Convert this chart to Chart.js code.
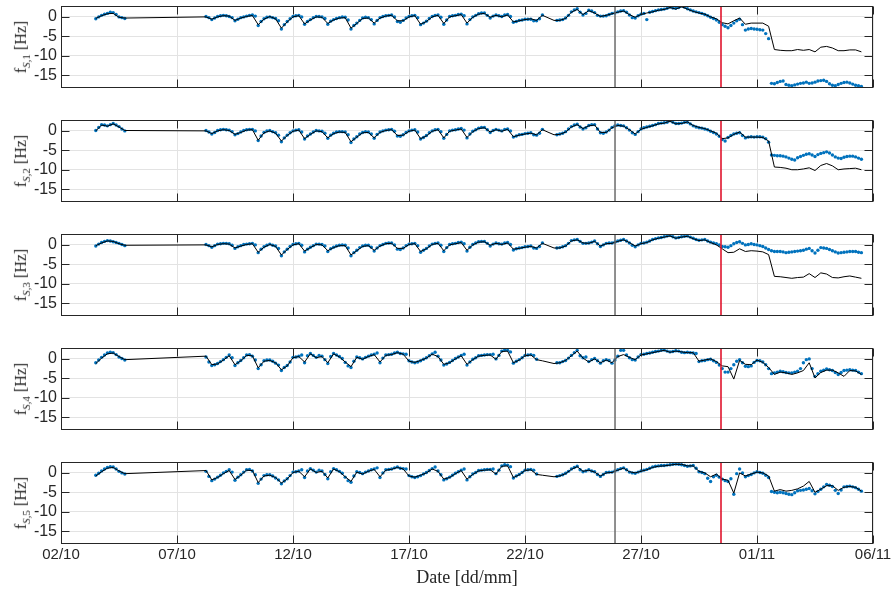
<!DOCTYPE html>
<html>
<head>
<meta charset="utf-8">
<script src="https://cdn.jsdelivr.net/npm/chart.js@4.4.1/dist/chart.umd.min.js"></script>
<style>
  body { margin: 0; background: #fff; width: 891px; height: 589px; position: relative; overflow: hidden; }
  canvas { position: absolute; left: 0; }
  .ylab, .xlab {
    position: absolute; white-space: nowrap; color: #262626;
    font-family: "Liberation Serif", "DejaVu Serif", serif;
  }
  .ylab { left: 22px; font-size: 16px; transform: translate(-50%, -50%) rotate(-90deg); }
  .ylab sub { font-size: 11px; }
  .xlab { left: 467px; top: 577px; font-size: 18px; transform: translate(-50%, -50%); }
</style>
</head>
<body>
<script>
// x axis: days since 02/10 00:00
const tickDays = [0, 5, 10, 15, 20, 25, 30, 35];
const tickLabels = ['02/10', '07/10', '12/10', '17/10', '22/10', '27/10', '01/11', '06/11'];
const yTicks = [-15, -10, -5, 0];
const grayDay = 23.88;  // 25/10 evening
const redDay = 28.43;   // 30/10 morning

// black line: 6-hourly samples (days); rows 03-04/10, then one row per day
const lineDays = [
  1.5, 1.75, 2, 2.25, 2.5, 2.75,
  6.25, 6.5, 6.75,
  7, 7.25, 7.5, 7.75,
  8, 8.25, 8.5, 8.75,
  9, 9.25, 9.5, 9.75,
  10, 10.25, 10.5, 10.75,
  11, 11.25, 11.5, 11.75,
  12, 12.25, 12.5, 12.75,
  13, 13.25, 13.5, 13.75,
  14, 14.25, 14.5, 14.75,
  15, 15.25, 15.5, 15.75,
  16, 16.25, 16.5, 16.75,
  17, 17.25, 17.5, 17.75,
  18, 18.25, 18.5, 18.75,
  19, 19.25, 19.5, 19.75,
  20, 20.25, 20.5, 20.75,
  21.25, 21.5, 21.75,
  22, 22.25, 22.5, 22.75,
  23, 23.25, 23.5, 23.75,
  24, 24.25, 24.5, 24.75,
  25, 25.25, 25.5, 25.75,
  26, 26.25, 26.5, 26.75,
  27, 27.25, 27.5, 27.75,
  28, 28.25, 28.5, 28.75,
  29, 29.25, 29.5, 29.75,
  30, 30.25, 30.5, 30.75,
  31, 31.25, 31.5, 31.75,
  32, 32.25, 32.5, 32.75,
  33, 33.25, 33.5, 33.75,
  34, 34.25, 34.5
];

// blue points: 3-hourly samples (days)
const dotDays = [
  1.5, 1.625, 1.75, 1.875, 2, 2.125, 2.25, 2.375, 2.5, 2.625, 2.75,
  6.25, 6.375, 6.5, 6.625, 6.75, 6.875,
  7, 7.125, 7.25, 7.375, 7.5, 7.625, 7.75, 7.875,
  8, 8.125, 8.25, 8.375, 8.5, 8.625, 8.75, 8.875,
  9, 9.125, 9.25, 9.375, 9.5, 9.625, 9.75, 9.875,
  10, 10.125, 10.25, 10.375, 10.5, 10.625, 10.75, 10.875,
  11, 11.125, 11.25, 11.375, 11.5, 11.625, 11.75, 11.875,
  12, 12.125, 12.25, 12.375, 12.5, 12.625, 12.75, 12.875,
  13, 13.125, 13.25, 13.375, 13.5, 13.625, 13.75, 13.875,
  14, 14.125, 14.25, 14.375, 14.5, 14.625, 14.75, 14.875,
  15, 15.125, 15.25, 15.375, 15.5, 15.625, 15.75, 15.875,
  16, 16.125, 16.25, 16.375, 16.5, 16.625, 16.75, 16.875,
  17, 17.125, 17.25, 17.375, 17.5, 17.625, 17.75, 17.875,
  18, 18.125, 18.25, 18.375, 18.5, 18.625, 18.75, 18.875,
  19, 19.125, 19.25, 19.375, 19.5, 19.625, 19.75, 19.875,
  20, 20.125, 20.25, 20.375, 20.5, 20.625, 20.75,
  21.375, 21.5, 21.625, 21.75, 21.875,
  22, 22.125, 22.25, 22.375, 22.5, 22.625, 22.75, 22.875,
  23, 23.125, 23.25, 23.375, 23.5, 23.625, 23.75, 23.875,
  24, 24.125, 24.25, 24.375, 24.5, 24.625, 24.75, 24.875,
  25, 25.125, 25.25, 25.375, 25.5, 25.625, 25.75, 25.875,
  26, 26.125, 26.25, 26.375, 26.5, 26.625, 26.75, 26.875,
  27, 27.125, 27.25, 27.375, 27.5, 27.625, 27.75, 27.875,
  28, 28.125, 28.25, 28.375, 28.5, 28.625, 28.75, 28.875,
  29, 29.125, 29.25, 29.375, 29.5, 29.625, 29.75, 29.875,
  30, 30.125, 30.25, 30.375, 30.5, 30.625, 30.75, 30.875,
  31, 31.125, 31.25, 31.375, 31.5, 31.625, 31.75, 31.875,
  32, 32.125, 32.25, 32.375, 32.5, 32.625, 32.75, 32.875,
  33, 33.125, 33.25, 33.375, 33.5, 33.625, 33.75, 33.875,
  34, 34.125, 34.25, 34.375, 34.5
];

// black = model line, blue = measured points  [Hz]
const black1 = [
  -0.4, 0.3, 0.8, 0.9, -0.1, -0.3,
  0.0, -0.6, 0.0,
  0.3, 0.2, -0.9, -0.3,
  0.1, 0.35, -2.0, -0.6,
  0.1, -0.5, -2.9, -1.3,
  0.0, 0.3, -1.8, -0.8,
  0.0, -0.1, -1.7, -0.8,
  -0.3, -0.2, -2.9, -1.7,
  -0.4, -0.3, -1.6, -0.3,
  0.2, 0.4, -1.0, -1.0,
  0.0, 0.3, -1.9, -1.2,
  0.0, 0.4, -1.7, 0.0,
  0.3, 0.6, -1.6, -0.1,
  0.7, 0.9, -0.1, 0.4,
  0.0, 0.5, -1.3, -1.0,
  -0.7, -0.5, -0.9, 0.4,
  -0.9, -0.9, -0.4,
  1.2, 1.9, 0.6, 1.6,
  1.0, 0.1, 0.4, 0.8,
  1.2, 1.5, 0.6, -0.1,
  0.6, 1.0, 1.3, 1.7,
  1.9, 2.4, 2.0, 2.6,
  2.0, 1.4, 1.0, 0.7,
  0.0, -0.5, -1.5, -1.8,
  -1.0, -0.3, -1.9, -1.6,
  -1.6, -1.6, -2.4, -8.4,
  -8.6, -8.7, -8.7, -8.4,
  -8.6, -8.4, -9.0, -7.8,
  -7.6, -8.0, -8.7, -8.7,
  -8.5, -8.5, -9.0
];
const blue1 = [
  -0.5, 0.0, 0.4, 0.7, 0.9, 1.2, 1.1, 0.6, 0.0, -0.2, -0.4,
  0.1, -0.2, -0.7, -0.3, 0.1, 0.3,
  0.4, 0.3, 0.1, -0.2, -1.0, -0.6, -0.2, 0.0,
  0.2, 0.4, 0.5, 0.2, -2.2, -1.2, -0.5, -0.1,
  0.0, -0.2, -0.4, -1.0, -3.1, -2.0, -1.2, -0.5,
  0.1, 0.3, 0.4, 0.0, -1.9, -1.2, -0.7, -0.2,
  0.1, 0.1, 0.0, -0.4, -1.9, -1.1, -0.7, -0.4,
  -0.2, 0.0, -0.1, -0.8, -3.1, -2.2, -1.6, -0.9,
  -0.3, -0.1, -0.2, -0.7, -1.8, -0.9, -0.2, 0.1,
  0.3, 0.4, 0.5, 0.0, -1.2, -1.4, -0.9, -0.3,
  0.1, 0.3, 0.4, -0.2, -2.0, -1.6, -1.1, -0.4,
  0.1, 0.4, 0.5, -0.1, -1.9, -0.8, 0.1, 0.3,
  0.4, 0.6, 0.7, 0.3, -1.8, -0.7, 0.0, 0.4,
  0.8, 1.0, 1.0, 0.4, -0.3, 0.2, 0.5, 0.3,
  0.1, 0.5, 0.6, 0.1, -1.4, -1.2, -0.9, -0.8,
  -0.6, -0.6, -0.6, -1.0, -1.0, -0.5, 0.5,
  -0.9, -0.8, -0.7, -0.3, 0.4,
  1.3, 1.8, 2.1, 1.2, 0.5, 0.9, 1.7, 1.5,
  1.1, 0.4, 0.2, 0.2, 0.3, 0.6, 0.9, 1.0,
  1.3, 1.5, 1.6, 1.2, 0.5, -0.2, -0.3, 0.3,
  0.7, 0.9, -0.7, 1.2, 1.4, 1.6, 1.8, 1.9,
  2.0, 2.2, 2.5, 2.3, 2.2, 2.4, 2.8, 2.5,
  2.1, 1.8, 1.5, 1.3, 1.1, 0.9, 0.6, 0.3,
  -0.1, -0.4, -0.8, -1.4, -2.0, -2.4, -2.8, -2.2,
  -1.6, -1.0, -0.6, -2.0, -3.4, -3.1, -3.0, -3.1,
  -3.2, -3.3, -3.4, -4.3, -5.6, -17.1, -17.2, -16.9,
  -16.6, -16.5, -17.4, -17.6, -17.7, -17.5, -17.3, -17.1,
  -17.0, -16.8, -17.1, -17.0, -16.8, -16.5, -16.4, -16.3,
  -16.6, -17.2, -17.6, -17.7, -17.4, -17.1, -16.9, -16.8,
  -17.0, -17.3, -17.6, -17.7, -17.9
];
const black2 = [
  0.0, 1.5, 1.2, 1.8, 1.0, 0.1,
  0.0, -0.7, 0.0,
  0.3, 0.1, -0.9, -0.4,
  0.2, 0.3, -2.4, -0.5,
  0.0, -0.6, -2.6, -1.2,
  -0.1, 0.2, -2.0, -0.9,
  0.0, -0.2, -1.8, -0.7,
  -0.3, -0.4, -2.8, -1.6,
  -0.5, -0.4, -1.8, -0.4,
  0.1, 0.3, -1.2, -1.1,
  -0.1, 0.2, -2.0, -1.3,
  -0.1, 0.3, -1.8, -0.1,
  0.2, 0.5, -1.7, -0.2,
  0.6, 0.8, -0.3, 0.3,
  -0.1, 0.4, -1.5, -1.1,
  -0.8, -0.6, -1.0, 0.3,
  -1.0, -0.9, -0.3,
  1.0, 1.6, 0.6, 1.3,
  1.5, -0.4, -0.4, 0.8,
  1.4, 1.2, 0.3, -0.8,
  0.4, 0.9, 1.3, 1.8,
  2.0, 2.5, 1.8, 1.9,
  2.3, 1.4, 0.9, 0.6,
  0.0, -0.6, -2.0, -1.8,
  -0.9, -0.3, -1.6, -1.6,
  -1.6, -1.7, -2.6, -9.3,
  -9.4, -9.6, -10.0, -10.0,
  -9.8, -9.5, -10.2, -8.9,
  -8.4, -9.0, -10.0, -9.8,
  -9.7, -9.6, -10.0
];
const blue2 = [
  0.1, 0.9, 1.6, 1.5, 1.3, 1.6, 1.9, 1.5, 1.1, 0.5, 0.0,
  0.1, -0.3, -0.8, -0.4, 0.1, 0.3,
  0.4, 0.3, 0.2, -0.2, -1.0, -0.7, -0.3, 0.1,
  0.3, 0.4, 0.4, 0.0, -2.5, -1.3, -0.4, 0.0,
  0.1, -0.2, -0.5, -1.1, -2.8, -1.8, -1.1, -0.5,
  0.0, 0.2, 0.3, -0.3, -2.1, -1.3, -0.8, -0.3,
  0.1, 0.0, -0.1, -0.6, -1.9, -1.1, -0.6, -0.3,
  -0.2, -0.2, -0.3, -1.0, -3.0, -2.1, -1.5, -0.8,
  -0.4, -0.2, -0.3, -0.8, -1.9, -0.9, -0.3, 0.0,
  0.2, 0.3, 0.4, -0.1, -1.3, -1.4, -1.0, -0.4,
  0.0, 0.2, 0.3, -0.3, -2.1, -1.7, -1.2, -0.5,
  0.0, 0.3, 0.4, -0.2, -1.9, -0.9, 0.0, 0.2,
  0.3, 0.5, 0.6, 0.2, -1.8, -0.8, -0.1, 0.3,
  0.7, 0.9, 0.9, 0.3, -0.4, 0.1, 0.4, 0.2,
  0.0, 0.4, 0.5, 0.0, -1.6, -1.3, -1.0, -0.9,
  -0.7, -0.6, -0.5, -1.0, -1.1, -0.6, 0.4,
  -1.0, -0.8, -0.6, -0.2, 0.5,
  1.1, 1.5, 1.7, 1.0, 0.5, 0.8, 1.4, 1.6,
  1.6, 0.5, -0.5, -0.6, -0.3, 0.2, 0.9, 1.3,
  1.5, 1.4, 1.3, 0.8, 0.2, -0.5, -0.9, -0.2,
  0.5, 0.8, 1.0, 1.2, 1.4, 1.6, 1.9, 2.0,
  2.1, 2.2, 2.6, 2.2, 1.9, 1.9, 2.0, 2.2,
  2.2, 1.8, 1.3, 1.0, 0.8, 0.7, 0.5, 0.3,
  -0.1, -0.4, -0.8, -1.4, -2.2, -2.6, -1.7, -1.2,
  -0.8, -0.6, -0.5, -1.2, -1.8, -1.6, -1.5, -1.6,
  -1.5, -1.5, -1.6, -2.0, -2.9, -6.2, -6.3, -6.4,
  -6.4, -6.5, -6.7, -7.0, -7.3, -7.5, -6.9, -6.6,
  -6.3, -6.0, -5.9, -6.2, -6.6, -6.1, -5.8, -5.6,
  -5.4, -5.7, -6.2, -6.7, -7.0, -7.1, -6.8, -6.6,
  -6.5, -6.5, -6.7, -7.0, -7.3
];
const black3 = [
  -0.2, 0.5, 1.0, 0.9, 0.3, -0.1,
  0.0, -0.5, 0.1,
  0.3, 0.2, -0.8, -0.3,
  0.1, 0.3, -1.9, -0.6,
  0.1, -0.4, -2.6, -1.2,
  0.0, 0.3, -1.6, -0.7,
  0.1, 0.0, -1.5, -0.7,
  -0.2, -0.2, -2.6, -1.5,
  -0.4, -0.2, -1.4, -0.3,
  0.3, 0.4, -0.9, -0.9,
  0.1, 0.3, -1.7, -1.0,
  0.1, 0.4, -1.5, 0.0,
  0.3, 0.6, -1.4, 0.0,
  0.7, 0.8, -0.1, 0.4,
  0.1, 0.5, -1.1, -0.9,
  -0.6, -0.4, -0.8, 0.4,
  -0.8, -0.8, -0.3,
  1.0, 1.3, 0.5, 0.4,
  0.9, -0.3, 0.3, 0.4,
  0.9, 1.3, 0.6, -0.3,
  0.3, 0.6, 1.3, 1.7,
  2.0, 2.3, 1.7, 2.0,
  2.2, 1.6, 1.1, 1.3,
  0.6, 0.0, -1.0, -2.0,
  -1.9, -1.0, -1.7, -1.5,
  -1.6, -1.8, -2.5, -8.1,
  -8.2, -8.4, -8.6, -8.4,
  -8.3, -7.4, -8.4, -7.2,
  -7.5, -8.4, -8.5, -8.2,
  -8.0, -8.3, -8.6
];
const blue3 = [
  -0.3, 0.2, 0.6, 0.9, 1.1, 1.0, 0.8, 0.6, 0.4, 0.1, -0.2,
  0.1, -0.2, -0.6, -0.2, 0.2, 0.3,
  0.4, 0.4, 0.3, -0.1, -0.9, -0.5, -0.2, 0.1,
  0.2, 0.3, 0.4, 0.0, -2.0, -1.1, -0.5, -0.1,
  0.2, -0.1, -0.3, -0.9, -2.8, -1.8, -1.1, -0.4,
  0.1, 0.3, 0.4, -0.1, -1.8, -1.1, -0.6, -0.2,
  0.2, 0.2, 0.1, -0.3, -1.7, -1.0, -0.6, -0.3,
  -0.1, 0.0, -0.1, -0.8, -2.8, -2.0, -1.4, -0.7,
  -0.3, -0.1, -0.1, -0.6, -1.6, -0.8, -0.2, 0.1,
  0.4, 0.5, 0.5, 0.0, -1.1, -1.2, -0.8, -0.2,
  0.2, 0.3, 0.4, -0.2, -1.9, -1.4, -0.9, -0.3,
  0.2, 0.4, 0.5, -0.1, -1.7, -0.7, 0.1, 0.3,
  0.4, 0.6, 0.7, 0.3, -1.6, -0.6, 0.1, 0.5,
  0.8, 0.9, 0.9, 0.4, -0.3, 0.2, 0.5, 0.3,
  0.2, 0.5, 0.6, 0.1, -1.3, -1.0, -0.8, -0.7,
  -0.5, -0.4, -0.3, -0.8, -0.9, -0.4, 0.5,
  -0.8, -0.7, -0.5, -0.2, 0.4,
  1.1, 1.3, 1.4, 0.9, 0.4, 0.4, 0.5, 0.7,
  1.0, 0.3, -0.4, 0.0, 0.4, 0.5, 0.5, 0.7,
  1.0, 1.2, 1.4, 1.0, 0.5, -0.1, -0.5, 0.0,
  0.4, 0.5, 0.7, 1.0, 1.4, 1.6, 1.8, 1.9,
  2.1, 2.3, 2.4, 2.1, 1.8, 1.9, 2.1, 2.2,
  2.3, 2.0, 1.7, 1.4, 1.2, 1.3, 1.4, 1.0,
  0.7, 0.5, 0.3, 0.0, -0.4, -0.5, -0.6, -0.2,
  0.3, 0.6, 0.8, 0.4, 0.0, 0.1, 0.3, 0.1,
  0.0, -0.2, -0.4, -0.8, -1.2, -1.5, -1.7, -1.7,
  -1.7, -1.8, -2.0, -1.9, -1.8, -1.7, -1.6, -1.5,
  -1.4, -1.1, -0.9, -1.5, -2.1, -1.4, -0.7, -0.8,
  -0.9, -1.2, -1.5, -1.8, -2.1, -2.0, -1.9, -1.8,
  -1.7, -1.7, -1.7, -1.9, -2.0
];
const black4 = [
  -1.2, 0.2, 1.3, 1.5, 0.6, -0.2,
  0.7, -1.5, -1.3,
  -0.3, 0.8, -1.5, -0.5,
  0.9, 0.8, -2.3, -0.6,
  -0.4, -1.0, -2.8, -1.8,
  0.3, 0.6, -0.8, 1.3,
  0.3, 0.6, -1.0, 1.3,
  0.5, -0.8, -2.0, 0.4,
  -0.1, 0.6, 1.1, -0.8,
  0.9, 1.1, 1.6, 1.2,
  -0.6, -0.9, -0.4, 0.2,
  1.2, 0.6, -1.4, -1.0,
  0.0, 0.8, -1.4, -0.2,
  0.7, 0.9, 1.0, -0.1,
  1.9, 2.0, -1.0, -0.3,
  0.8, 1.0, -0.2, -0.5,
  -1.2, -1.0, -0.4,
  0.8, 2.0, 0.2, -0.8,
  0.0, -1.0, -0.3, -1.0,
  0.6, 1.1, 0.4, -0.2,
  1.0, 1.3, 1.6, 1.9,
  2.2, 1.7, 2.0, 1.8,
  1.6, 1.6, -0.6, -0.3,
  0.0, -0.7, -1.8, -2.0,
  -5.2, -0.4, -1.4, -1.5,
  -0.3, -0.9, -2.2, -4.0,
  -3.4, -3.6, -4.0, -3.6,
  -3.0, -1.0, -4.9, -3.5,
  -2.9, -2.9, -3.6, -4.5,
  -3.0, -3.1, -4.0
];
const blue4 = [
  -1.0, -0.3, 0.4, 1.0, 1.5, 1.7, 1.6, 1.1, 0.5, 0.1, -0.3,
  0.5, -0.8, -1.7, -1.5, -1.2, -0.7,
  -0.2, 0.4, 1.0, 0.3, -1.7, -1.0, -0.4, 0.3,
  1.0, 1.1, 0.7, -0.3, -2.5, -1.5, -0.5, -0.3,
  -0.3, -0.6, -1.1, -1.6, -3.0, -2.2, -1.7, -0.8,
  0.4, 0.5, 0.7, 1.0, -1.0, 0.8, 1.4, 0.9,
  0.4, 0.9, 0.7, -0.2, -1.2, 0.6, 1.4, 1.0,
  0.6, 0.1, -0.9, -1.8, -2.2, -0.6, 0.5, 0.3,
  0.0, 0.4, 0.7, 1.0, 1.2, 1.5, -1.0, 0.2,
  1.0, 1.1, 1.2, 1.5, 1.7, 1.4, 1.3, 1.2,
  -0.5, -0.8, -1.0, -0.8, -0.5, -0.1, 0.3, 0.8,
  1.3, 1.7, 0.7, -0.3, -1.6, -1.3, -0.9, -0.4,
  0.1, 0.5, 0.9, 1.2, -1.6, -0.8, -0.1, 0.3,
  0.8, 0.9, 1.0, 1.1, 1.1, 1.2, 0.0, 0.9,
  2.0, 2.3, 2.2, 1.8, -1.1, -0.6, -0.2, 0.3,
  0.9, 1.0, 1.1, 0.9, -0.1, null, null,
  -1.0, -1.0, -0.7, -0.4, 0.2,
  0.9, 1.6, 2.2, 0.8, 0.3, 0.5, -0.7, -0.2,
  0.1, -0.5, -1.1, -0.5, -0.2, -0.4, -1.1, -0.3,
  0.7, 2.2, 2.2, 1.0, 0.3, -0.2, -0.3, 0.5,
  1.1, 1.2, 1.4, 1.5, 1.7, 1.9, 2.0, 2.2,
  2.3, 2.0, 1.8, 1.9, 2.1, 2.0, 1.7, 1.6,
  1.7, 1.6, 1.5, 1.4, -0.7, -0.5, -0.4, -0.2,
  -0.1, -0.5, -0.9, -1.6, -2.5, -3.4, -3.4, -2.5,
  -1.5, -0.6, -0.2, -1.0, -1.9, -2.0, -1.8, -0.9,
  -0.4, -0.5, -0.8, -1.5, -2.5, -3.8, -3.6, -3.4,
  -3.2, -3.3, -3.5, -3.6, -3.6, -3.4, -3.2, -2.5,
  -1.0, -0.2, 0.0, -2.5, -4.5, -3.8, -3.2, -2.9,
  -2.6, -2.8, -3.0, -3.5, -4.0, -3.5, -3.0, -2.9,
  -2.8, -2.9, -3.0, -3.4, -3.8
];
const black5 = [
  -0.8, 0.3, 1.2, 1.4, 0.5, -0.2,
  0.6, -1.8, -1.2,
  -0.2, 0.6, -1.7, -0.6,
  0.7, 0.6, -2.5, -0.8,
  -0.6, -1.2, -2.6, -1.6,
  0.1, 0.4, -1.0, 1.0,
  0.1, 0.4, -1.3, 1.0,
  0.3, -1.0, -2.2, 0.2,
  -0.3, 0.4, 0.9, -1.0,
  0.7, 0.9, 1.4, 1.0,
  -0.8, -1.1, -0.6, 0.0,
  1.0, 0.4, -1.6, -1.2,
  -0.2, 0.6, -1.6, -0.4,
  0.5, 0.7, 0.8, -0.3,
  1.7, 1.8, -1.2, -0.5,
  0.6, 0.8, -0.4, -0.6,
  -1.0, -0.8, -0.2,
  0.9, 1.6, 0.4, 0.7,
  0.2, -0.8, 0.0, 0.1,
  0.7, 1.2, 0.3, 0.0,
  0.4, 0.8, 1.4, 1.7,
  1.8, 2.0, 2.2, 2.2,
  1.8, 1.8, 0.4, 0.0,
  -1.0, -0.3, -1.6, -1.9,
  -5.2, 0.0, -0.8, -0.3,
  0.2, 0.0, -0.8, -4.7,
  -4.3, -4.7, -4.5, -4.1,
  -3.4, -2.2, -5.0, -4.2,
  -3.3, -3.3, -4.5, -3.7,
  -3.5, -3.7, -4.7
];
const blue5 = [
  -0.6, -0.1, 0.5, 1.0, 1.4, 1.6, 1.5, 1.0, 0.4, 0.0, -0.3,
  0.4, -0.9, -2.0, -1.6, -1.1, -0.6,
  0.0, 0.4, 0.8, 0.2, -1.9, -1.1, -0.5, 0.2,
  0.8, 0.9, 0.5, -0.5, -2.7, -1.6, -0.7, -0.5,
  -0.5, -0.8, -1.3, -1.8, -2.8, -2.1, -1.5, -0.7,
  0.2, 0.3, 0.5, 0.8, -1.2, 0.5, 1.1, 0.7,
  0.2, 0.7, 0.5, -0.4, -1.5, 0.3, 1.1, 0.8,
  0.4, -0.1, -1.1, -2.0, -2.4, -0.8, 0.3, 0.1,
  -0.2, 0.2, 0.5, 0.8, 1.0, 1.3, -1.2, 0.0,
  0.8, 0.9, 1.0, 1.3, 1.5, 1.2, 1.1, 1.0,
  -0.7, -1.0, -1.2, -1.0, -0.7, -0.3, 0.1, 0.6,
  1.1, 1.5, 0.5, -0.5, -1.8, -1.5, -1.1, -0.6,
  -0.1, 0.3, 0.7, 1.0, -1.8, -1.0, -0.3, 0.1,
  0.6, 0.7, 0.8, 0.9, 0.9, 1.0, -0.2, 0.7,
  1.8, 2.1, 2.0, 1.6, -1.3, -0.8, -0.4, 0.1,
  0.7, 0.8, 0.9, 0.7, -0.3, null, null,
  -0.9, -0.7, -0.5, -0.1, 0.4,
  1.0, 1.4, 1.7, 0.8, 0.3, 0.5, 0.8, 0.5,
  0.3, -0.4, -0.9, -0.4, 0.1, 0.2, 0.2, 0.5,
  0.8, 1.1, 1.3, 0.8, 0.2, 0.0, -0.1, 0.2,
  0.5, 0.7, 0.9, 1.2, 1.5, 1.7, 1.8, 1.9,
  1.9, 2.0, 2.1, 2.2, 2.3, 2.2, 2.1, 1.9,
  1.7, 1.8, 1.9, 1.2, 0.3, 0.1, -0.2, -1.4,
  -2.2, -1.0, -0.6, -1.1, -1.6, -2.0, -2.2, -1.5,
  -5.5, -0.2, 1.0, 0.0, -1.0, -0.7, -0.4, 0.0,
  0.3, 0.1, -0.1, -0.6, -1.2, -4.8, -5.0, -5.1,
  -5.0, -5.1, -5.3, -5.5, -5.6, -5.1, -4.6, -4.5,
  -4.4, -4.2, -4.0, -4.6, -5.4, -4.8, -4.2, -3.6,
  -3.0, -3.2, -3.5, -4.5, -5.3, -4.4, -3.6, -3.5,
  -3.4, -3.6, -3.8, -4.2, -4.7
];

const panels = [
  { name: '1', line: black1, dots: blue1 },
  { name: '2', line: black2, dots: blue2 },
  { name: '3', line: black3, dots: blue3 },
  { name: '4', line: black4, dots: blue4 },
  { name: '5', line: black5, dots: blue5 }
];

const panelTop = [6, 120, 234, 348, 462];
const panelH = 82;
const pad = 4;
const fontFamily = '"Liberation Sans", Arial, sans-serif';

function pts(days, vals) {
  return days.map((d, i) => ({ x: d, y: vals[i] }));
}

// box, inner tick marks and the two event lines
const frame = {
  id: 'frame',
  afterDatasetsDraw(chart) {
    const { ctx, chartArea: a, scales: { x } } = chart;
    ctx.save();
    ctx.lineWidth = 1.5;
    ctx.strokeStyle = '#6b6b6b';
    let px = x.getPixelForValue(grayDay);
    ctx.beginPath(); ctx.moveTo(px, a.top); ctx.lineTo(px, a.bottom); ctx.stroke();
    ctx.lineWidth = 1.6;
    ctx.strokeStyle = '#e0142c';
    px = Math.round(x.getPixelForValue(redDay));
    ctx.beginPath(); ctx.moveTo(px, a.top); ctx.lineTo(px, a.bottom); ctx.stroke();
    ctx.restore();
  },
  afterDraw(chart) {
    const { ctx, chartArea: a, scales: { x, y } } = chart;
    const L = Math.round(a.left) + 0.5, R = Math.round(a.right) - 0.5;
    const T = Math.round(a.top) + 0.5, B = Math.round(a.bottom) - 0.5;
    ctx.save();
    ctx.strokeStyle = '#262626';
    ctx.lineWidth = 1;
    ctx.beginPath();
    yTicks.forEach(v => {
      const py = Math.round(y.getPixelForValue(v)) + 0.5;
      ctx.moveTo(L, py); ctx.lineTo(L + 8, py);
      ctx.moveTo(R, py); ctx.lineTo(R - 8, py);
    });
    tickDays.forEach(v => {
      const px = Math.round(x.getPixelForValue(v)) + 0.5;
      ctx.moveTo(px, B); ctx.lineTo(px, B - 8);
      ctx.moveTo(px, T); ctx.lineTo(px, T + 8);
    });
    ctx.stroke();
    ctx.strokeRect(L, T, R - L, B - T);
    ctx.restore();
  }
};

panels.forEach((p, i) => {
  const last = i === panels.length - 1;
  const cv = document.createElement('canvas');
  cv.width = 891;
  cv.height = pad + panelH + pad + (last ? 30 : 0);
  cv.style.top = (panelTop[i] - pad) + 'px';
  document.body.appendChild(cv);

  const lab = document.createElement('div');
  lab.className = 'ylab';
  lab.style.top = (panelTop[i] + panelH / 2) + 'px';
  lab.innerHTML = 'f<sub><i>S</i>,' + p.name + '</sub> [Hz]';
  document.body.appendChild(lab);

  new Chart(cv, {
    type: 'scatter',
    data: {
      datasets: [
        {
          type: 'line',
          data: pts(lineDays, p.line),
          borderColor: '#000000',
          borderWidth: 1,
          pointRadius: 0,
          tension: 0,
          spanGaps: true,
          order: 0
        },
        {
          data: pts(dotDays, p.dots),
          backgroundColor: '#0072BD',
          borderWidth: 0,
          pointRadius: 1.7,
          order: 1
        }
      ]
    },
    options: {
      responsive: false,
      animation: false,
      events: [],
      layout: { padding: { top: pad, bottom: pad, left: 0, right: 18 } },
      plugins: { legend: { display: false }, tooltip: { enabled: false } },
      scales: {
        x: {
          type: 'linear',
          min: 0,
          max: 35,
          afterBuildTicks: s => { s.ticks = tickDays.map(v => ({ value: v })); },
          afterFit: s => {
            s.height = last ? 30 : 0;
            s.paddingLeft = 0;
            s.paddingRight = 0;
          },
          grid: { color: '#e3e3e3', drawTicks: false },
          border: { display: false },
          ticks: {
            display: last,
            padding: 2,
            maxRotation: 0,
            autoSkip: false,
            color: '#262626',
            font: { family: fontFamily, size: 15 },
            callback: v => tickLabels[tickDays.indexOf(v)]
          }
        },
        y: {
          min: -18.3,
          max: 2.8,
          afterBuildTicks: s => { s.ticks = yTicks.map(v => ({ value: v })); },
          afterFit: s => {
            s.width = 61;
            s.paddingTop = 0;
            s.paddingBottom = 0;
          },
          grid: { color: '#e3e3e3', drawTicks: false },
          border: { display: false },
          ticks: { padding: 4, autoSkip: false, color: '#262626', font: { family: fontFamily, size: 16 } }
        }
      }
    },
    plugins: [frame]
  });
});

const xl = document.createElement('div');
xl.className = 'xlab';
xl.textContent = 'Date [dd/mm]';
document.body.appendChild(xl);
</script>
</body>
</html>
